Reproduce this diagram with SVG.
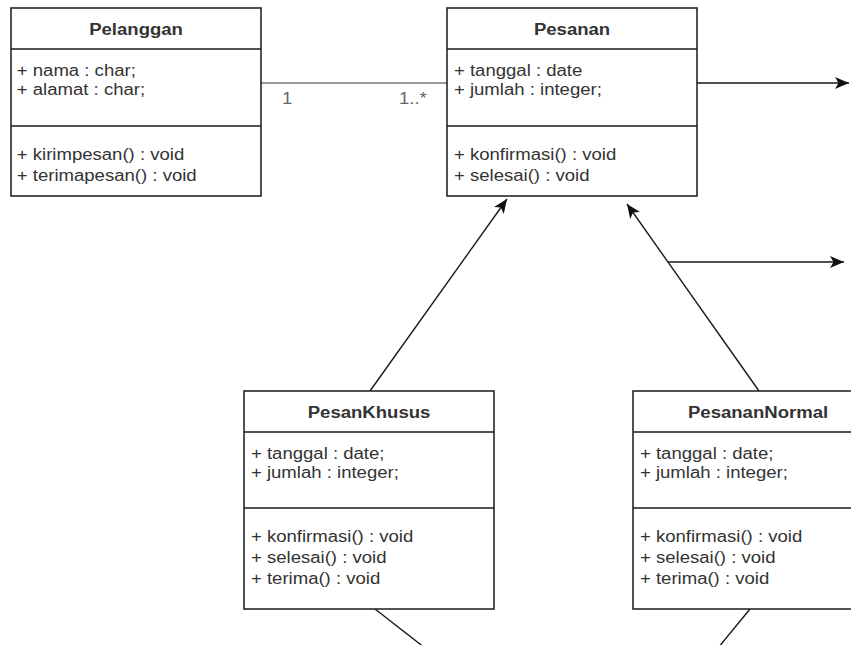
<svg xmlns="http://www.w3.org/2000/svg" width="851" height="645" viewBox="0 0 851 645">
<style>
.box{fill:#fff;stroke:#1a1a1a;stroke-width:1.5}
.div{stroke:#1a1a1a;stroke-width:1.5}
.t{font-family:"Liberation Sans",Arial,sans-serif;font-size:16px;fill:#333}
.h{font-family:"Liberation Sans",Arial,sans-serif;font-size:16px;font-weight:bold;fill:#333;text-anchor:middle}
.lbl{font-family:"Liberation Sans",Arial,sans-serif;font-size:16px;fill:#666}
.edge{fill:none;stroke:#1a1a1a;stroke-width:1.4}
.assoc{fill:none;stroke:#777;stroke-width:1.6}
</style>
<defs>
<marker id="arr" markerUnits="userSpaceOnUse" markerWidth="15" markerHeight="12" refX="14" refY="6" orient="auto">
<path d="M0,0 L14,6 L0,12 L3.5,6 z" fill="#111"/>
</marker>
</defs>
<rect width="851" height="645" fill="#fff"/>

<g id="connectors">
<line class="assoc" x1="261" y1="83" x2="447" y2="83"/>
<g transform="translate(282,0) scale(1.16,1)"><text class="lbl" x="0" y="104">1</text></g>
<g transform="translate(399,0) scale(1.16,1)"><text class="lbl" x="0" y="104">1..*</text></g>
<line class="edge" x1="697" y1="83" x2="849" y2="83" marker-end="url(#arr)"/>
<line class="edge" x1="668" y1="262" x2="844" y2="262" marker-end="url(#arr)"/>
<line class="edge" x1="370" y1="391" x2="507" y2="199" marker-end="url(#arr)"/>
<line class="edge" x1="759" y1="391" x2="627" y2="204" marker-end="url(#arr)"/>
<line class="edge" x1="375" y1="609" x2="425" y2="648"/>
<line class="edge" x1="750" y1="609" x2="718" y2="648"/>
</g>

<g id="Pelanggan">
<rect class="box" x="11" y="8" width="250" height="188"/>
<line class="div" x1="11" y1="49" x2="261" y2="49"/>
<line class="div" x1="11" y1="126" x2="261" y2="126"/>
<g transform="translate(11,0) scale(1.16,1)">
<text class="h" x="107.8" y="35">Pelanggan</text>
<text class="t" x="5" y="76">+ nama : char;</text>
<text class="t" x="5" y="95.5">+ alamat : char;</text>
<text class="t" x="5" y="160">+ kirimpesan() : void</text>
<text class="t" x="5" y="181">+ terimapesan() : void</text>
</g>
</g>

<g id="Pesanan">
<rect class="box" x="447" y="8" width="250" height="188"/>
<line class="div" x1="447" y1="49" x2="697" y2="49"/>
<line class="div" x1="447" y1="126" x2="697" y2="126"/>
<g transform="translate(447,0) scale(1.16,1)">
<text class="h" x="107.8" y="35">Pesanan</text>
<text class="t" x="6" y="76">+ tanggal : date</text>
<text class="t" x="6" y="95.5">+ jumlah : integer;</text>
<text class="t" x="6" y="160">+ konfirmasi() : void</text>
<text class="t" x="6" y="181">+ selesai() : void</text>
</g>
</g>

<g id="PesanKhusus">
<rect class="box" x="244" y="391" width="250" height="218"/>
<line class="div" x1="244" y1="432" x2="494" y2="432"/>
<line class="div" x1="244" y1="508" x2="494" y2="508"/>
<g transform="translate(244,0) scale(1.16,1)">
<text class="h" x="107.8" y="418">PesanKhusus</text>
<text class="t" x="6" y="459">+ tanggal : date;</text>
<text class="t" x="6" y="478.5">+ jumlah : integer;</text>
<text class="t" x="6" y="542">+ konfirmasi() : void</text>
<text class="t" x="6" y="563">+ selesai() : void</text>
<text class="t" x="6" y="584">+ terima() : void</text>
</g>
</g>

<g id="PesananNormal">
<rect class="box" x="633" y="391" width="250" height="218"/>
<line class="div" x1="633" y1="432" x2="883" y2="432"/>
<line class="div" x1="633" y1="508" x2="883" y2="508"/>
<g transform="translate(633,0) scale(1.16,1)">
<text class="h" x="107.8" y="418">PesananNormal</text>
<text class="t" x="6" y="459">+ tanggal : date;</text>
<text class="t" x="6" y="478.5">+ jumlah : integer;</text>
<text class="t" x="6" y="542">+ konfirmasi() : void</text>
<text class="t" x="6" y="563">+ selesai() : void</text>
<text class="t" x="6" y="584">+ terima() : void</text>
</g>
</g>
</svg>
